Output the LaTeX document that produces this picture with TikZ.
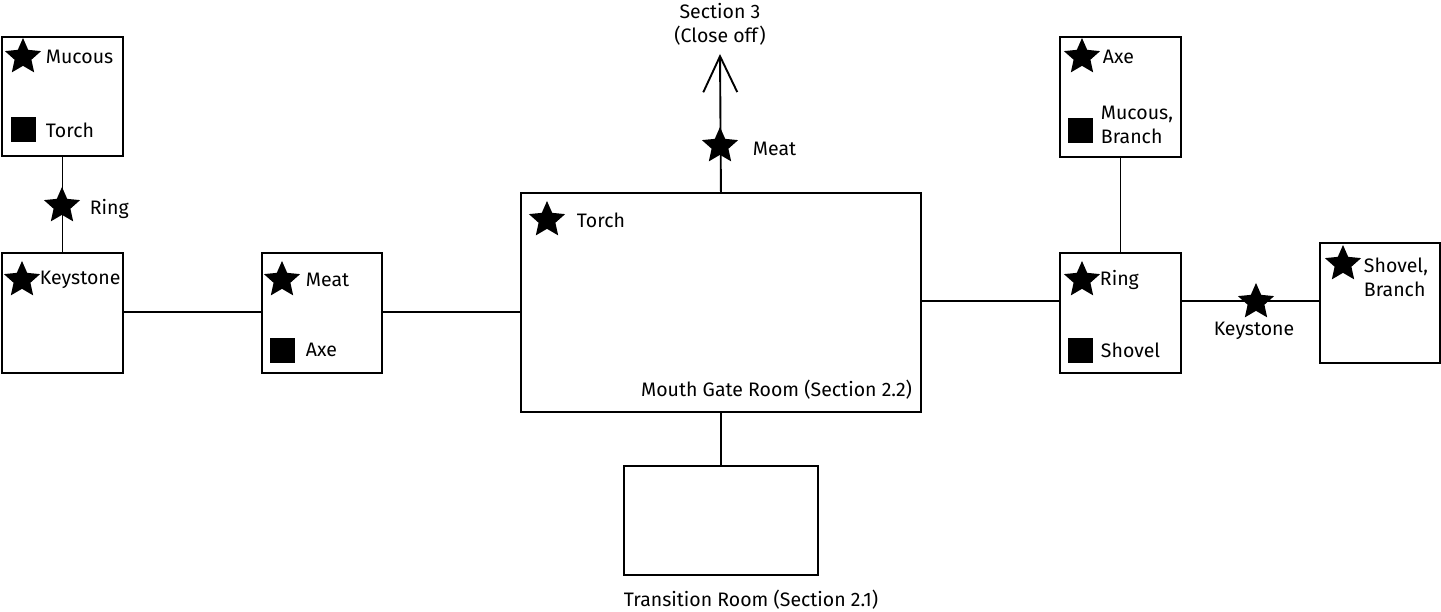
\documentclass[tikz,border=0pt]{standalone}
\usepackage{fontspec}
\setmainfont{Fira Sans}
\usetikzlibrary{shapes.geometric,arrows.meta}
\begin{document}
\begin{tikzpicture}[x=1pt,y=-1pt,line width=1.9pt,
  room/.style={draw,rectangle,inner sep=0pt,anchor=north west},
  itemstar/.style={star,star points=5,star point ratio=2.15,fill=black,draw=none,minimum size=38pt,inner sep=0pt},
  itemsq/.style={rectangle,fill=black,draw=none,minimum size=25pt,inner sep=0pt},
  lbl/.style={font=\fontsize{19.5}{24}\selectfont,inner sep=0pt},
  lblw/.style={lbl,anchor=west,align=left}]
\useasboundingbox (0,0) rectangle (1441,612);
% rooms
\node[room,minimum width=121pt,minimum height=119pt] (A) at (1,36) {};
\node[room,minimum width=121pt,minimum height=120pt] (B) at (1,252) {};
\node[room,minimum width=120pt,minimum height=120pt] (C) at (261,252) {};
\node[room,minimum width=400pt,minimum height=219pt] (D) at (520,192) {};
\node[room,minimum width=194pt,minimum height=109pt] (E) at (623,465) {};
\node[room,minimum width=121pt,minimum height=120pt] (F) at (1059,252) {};
\node[room,minimum width=121pt,minimum height=120pt] (G) at (1059,36) {};
\node[room,minimum width=120pt,minimum height=120pt] (H) at (1319,242) {};
% room A
\node[itemstar] (As) at (23,57) {};
\node[lblw] (At) at (45,57) {Mucous};
\node[itemsq] (Aq) at (23,130) {};
\node[lblw] (Au) at (45,130) {Torch};
% room B
\node[itemstar] (Bs) at (22,280) {};
\node[lblw] (Bt) at (39,280) {Keystone};
% room C
\node[itemstar] (Cs) at (282,280) {};
\node[lblw] (Ct) at (305,280) {Meat};
\node[itemsq] (Cq) at (282,351) {};
\node[lblw] (Cu) at (305,350) {Axe};
% room D
\node[itemstar] (Ds) at (547,220) {};
\node[lblw] (Dt) at (576,220) {Torch};
\node[lbl,anchor=east] (Dl) at (913,390) {Mouth Gate Room (Section 2.2)};
% room E
\node[lbl] (El) at (751,600) {Transition Room (Section 2.1)};
% room F
\node[itemstar] (Fs) at (1082,280) {};
\node[lblw] (Ft) at (1099,280) {Ring};
\node[itemsq] (Fq) at (1080,351) {};
\node[lblw] (Fu) at (1100,350) {Shovel};
% room G
\node[itemstar] (Gs) at (1082,57) {};
\node[lblw] (Gt) at (1102,57) {Axe};
\node[itemsq] (Gq) at (1080,131) {};
\node[lblw] (Gu) at (1100,125) {Mucous,\\Branch};
% room H
\node[itemstar] (Hs) at (1343,264) {};
\node[lblw] (Ht) at (1363,277) {Shovel,\\Branch};
% connectors
\draw (A.south) -- (B.north);
\node[itemstar] (ABs) at (62,206) {};
\node[lblw] (ABt) at (89,209) {Ring};
\draw (B.east |- 0,312) -- (C.west |- 0,312);
\draw (C.east |- 0,312) -- (D.west |- 0,312);
\coordinate (S3) at (720,54);
\draw[-{Straight Barb[length=36pt,width=34pt,line width=1.9pt]}] (D.north) -- (S3);
\node[itemstar] (DSs) at (720,146) {};
\node[lblw] (DSt) at (752,149) {Meat};
\node[lbl,align=center] (S3l) at (720,24) {Section 3\\(Close off)};
\draw (D.south) -- (E.north);
\draw (D.east |- 0,301) -- (F.west |- 0,301);
\draw (G.south) -- (F.north);
\draw (F.east |- 0,301) -- (H.west |- 0,301);
\node[itemstar] (FHs) at (1256,302) {};
\node[lbl] (FHt) at (1254,331) {Keystone};
\end{tikzpicture}
\end{document}
